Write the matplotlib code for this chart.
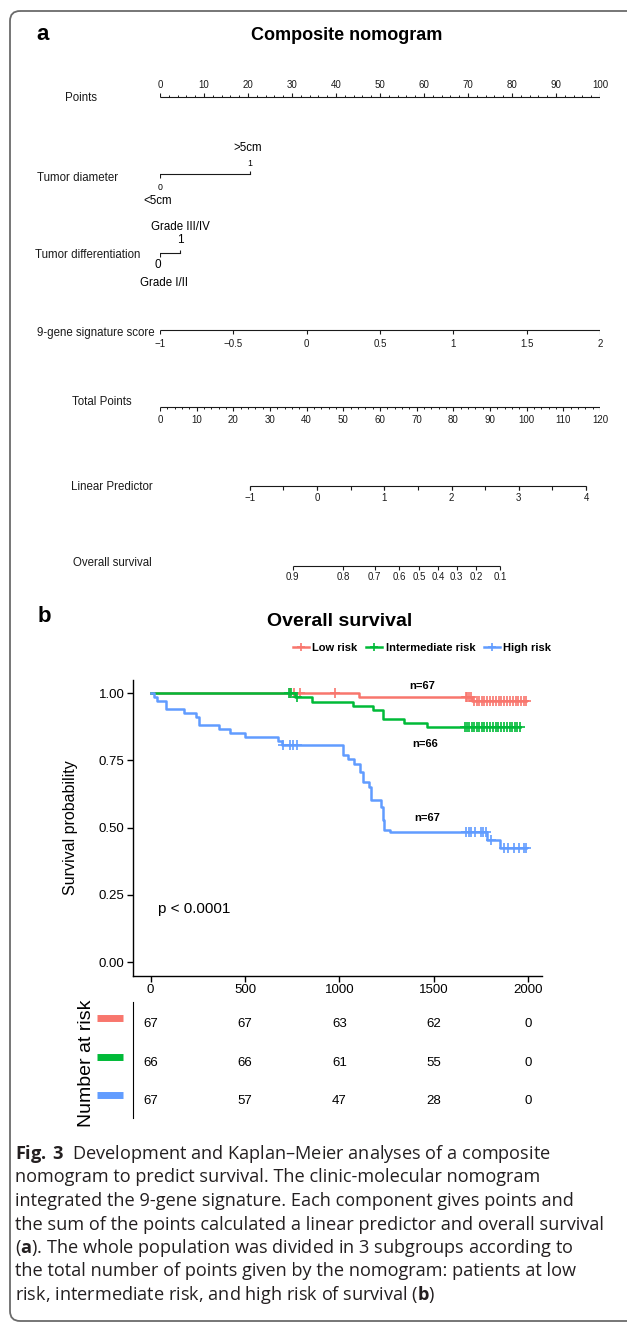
import numpy as np
import matplotlib
matplotlib.use("Agg")
import matplotlib.pyplot as plt
from matplotlib.patches import FancyBboxPatch
from matplotlib.lines import Line2D

plt.rcParams['font.family'] = ['Liberation Sans', 'DejaVu Sans']
plt.rcParams['mathtext.fontset'] = 'custom'
plt.rcParams['mathtext.bf'] = 'Open Sans:bold'
plt.rcParams['mathtext.rm'] = 'Open Sans'

W, H = 627, 1324

# ---------------- nomogram (panel a) ----------------
points_ticks = [0, 10, 20, 30, 40, 50, 60, 70, 80, 90, 100]
diam_vals = [0, 1]
diam_cats = ["<5cm", ">5cm"]
diff_vals = [0, 1]
diff_cats = ["Grade I/II", "Grade III/IV"]
gene_ticks = [-1, -0.5, 0, 0.5, 1, 1.5, 2]
gene_labels = ["\u22121", "\u22120.5", "0", "0.5", "1", "1.5", "2"]
total_ticks = [0, 10, 20, 30, 40, 50, 60, 70, 80, 90, 100, 110, 120]
lp_ticks = [-1, -0.5, 0, 0.5, 1, 1.5, 2, 2.5, 3, 3.5, 4]
lp_labeled = [-1, 0, 1, 2, 3, 4]
os_ticks = [0.9, 0.8, 0.7, 0.6, 0.5, 0.4, 0.3, 0.2, 0.1]

# model
diam_pts = 20.5        # points for >5cm
diff_pts = 4.6         # points for grade III/IV
gene_range = (-1, 2)   # 9-gene score spanning 0..100 points
total_max = 120
lp_at_tp0 = -2.336
lp_per_tp = 0.05453
log_h0 = -1.889

# ---------------- Kaplan-Meier (panel b) ----------------
low_t = [0, 1105, 1700]
low_s = [1.0, 0.984, 0.969]
low_cens = [740, 760, 790, 975, 1668, 1677, 1687, 1695, 1712, 1726, 1740, 1754,
            1768, 1783, 1798, 1813, 1828, 1843, 1858, 1873, 1888, 1903, 1918,
            1933, 1948, 1962, 1976, 1989]

int_t = [0, 765, 852, 1070, 1176, 1228, 1342, 1464]
int_s = [1.0, 0.985, 0.968, 0.951, 0.936, 0.905, 0.888, 0.872]
int_cens = [735, 745, 777, 1665, 1676, 1688, 1700, 1713, 1726, 1740, 1754, 1768,
            1782, 1797, 1812, 1827, 1842, 1857, 1872, 1887, 1902, 1916, 1930,
            1942, 1954]

high_t = [0, 18, 35, 81, 177, 240, 258, 364, 420, 500, 677, 694, 1018, 1044,
          1076, 1111, 1123, 1158, 1167, 1219, 1228, 1237, 1268, 1781, 1851]
high_s = [1.0, 0.985, 0.970, 0.940, 0.925, 0.910, 0.881, 0.866, 0.851, 0.836,
          0.821, 0.806, 0.769, 0.753, 0.736, 0.708, 0.671, 0.652, 0.603, 0.578,
          0.529, 0.492, 0.483, 0.454, 0.423]
high_cens = [700, 738, 756, 777, 1671, 1684, 1696, 1719, 1749, 1760, 1775, 1800,
             1869, 1895, 1922, 1949, 1975, 1989]

groups = ["Low risk", "Intermediate risk", "High risk"]
colors = ["#F8766D", "#00BA38", "#619CFF"]
n_labels = ["n=67", "n=66", "n=67"]
n_pos = [(1438, 1.027), (1455, 0.812), (1464, 0.535)]

risk_times = [0, 500, 1000, 1500, 2000]
risk_low = [67, 67, 63, 62, 0]
risk_int = [66, 66, 61, 55, 0]
risk_high = [67, 57, 47, 28, 0]

caption = [
    r"$\mathbf{Fig.\,3}$  Development and Kaplan–Meier analyses of a composite",
    "nomogram to predict survival. The clinic-molecular nomogram",
    "integrated the 9-gene signature. Each component gives points and",
    "the sum of the points calculated a linear predictor and overall survival",
    r"($\mathbf{a}$). The whole population was divided in 3 subgroups according to",
    "the total number of points given by the nomogram: patients at low",
    r"risk, intermediate risk, and high risk of survival ($\mathbf{b}$)",
]


def fx(px):
    return px / W


def fy(py):
    return 1 - py / H


fig = plt.figure(figsize=(W / 100, H / 100), dpi=100)

# frame
bg = fig.add_axes([0, 0, 1, 1])
bg.set_xlim(0, W)
bg.set_ylim(H, 0)
bg.axis('off')
bg.add_patch(FancyBboxPatch((10, 11), 700, 1310,
                            boxstyle="round,pad=0,rounding_size=10",
                            fc='none', ec='#6b6b6b', lw=1.3, clip_on=False))

ink = '#1a1a1a'

# nomogram axes: x in points, y in pixel rows
nom = fig.add_axes([fx(160), fy(620), fx(600) - fx(160), 620 / H])
nom.set_xlim(0, 100)
nom.set_ylim(620, 0)
nom.axis('off')


def gene_to_pts(v):
    return (v - gene_range[0]) / (gene_range[1] - gene_range[0]) * 100


def total_to_pts(tp):
    return np.asarray(tp, dtype=float) / total_max * 100


def lp_to_pts(lp):
    return total_to_pts((np.asarray(lp, dtype=float) - lp_at_tp0) / lp_per_tp)


def surv_to_pts(s):
    s = np.asarray(s, dtype=float)
    return lp_to_pts(np.log(-np.log(s)) - log_h0)


def scale_row(y, pos, labels, side='down', fs=7, minor=None, tl=4, off=13):
    pos = np.asarray(pos, dtype=float)
    nom.plot([pos.min(), pos.max()], [y, y], color=ink, lw=0.8, solid_capstyle='butt')
    d = -1 if side == 'up' else 1
    nom.vlines(pos, y, y + d * tl, color=ink, lw=0.8)
    if minor is not None:
        nom.vlines(minor, y, y + d * tl * 0.5, color=ink, lw=0.7)
    for p, lab in zip(pos, labels):
        nom.text(p, y + d * off, lab, ha='center', va='center', fontsize=fs, color=ink)


def row_label(px, py, text):
    fig.text(fx(px), fy(py), text, ha='left', va='center', fontsize=8.3, color=ink)


fig.text(fx(36), fy(35), "a", fontsize=16, fontweight='bold', ha='left', va='center')
fig.text(fx(347), fy(35), "Composite nomogram", fontsize=13, fontweight='bold',
         ha='center', va='center')

# Points
minor_pts = [p for p in range(0, 101, 2) if p % 10]
scale_row(97, points_ticks, [str(t) for t in points_ticks], side='up', minor=minor_pts, off=12)
row_label(65, 98, "Points")

# Tumor diameter
dpos = [v * diam_pts for v in diam_vals]
nom.plot(dpos, [174, 174], color=ink, lw=0.8)
nom.vlines(dpos[0], 174, 177.5, color=ink, lw=0.8)
nom.vlines(dpos[1], 170.5, 174, color=ink, lw=0.8)
nom.text(dpos[0], 187, "0", ha='center', va='center', fontsize=6.3)
nom.text(dpos[0] - 0.5, 201, diam_cats[0], ha='center', va='center', fontsize=8.3)
nom.text(dpos[1], 163, "1", ha='center', va='center', fontsize=6.3)
nom.text(dpos[1] - 0.5, 148, diam_cats[1], ha='center', va='center', fontsize=8.3)
row_label(37, 178, "Tumor diameter")

# Tumor differentiation
gpos = [v * diff_pts for v in diff_vals]
nom.plot(gpos, [253, 253], color=ink, lw=0.8)
nom.vlines(gpos[0], 253, 256.5, color=ink, lw=0.8)
nom.vlines(gpos[1], 249.5, 253, color=ink, lw=0.8)
nom.text(gpos[0] - 0.4, 265, "0", ha='center', va='center', fontsize=8.5)
nom.text(gpos[0] + 0.8, 283, diff_cats[0], ha='center', va='center', fontsize=8.3)
nom.text(gpos[1], 240, "1", ha='center', va='center', fontsize=8.5)
nom.text(gpos[1], 227, diff_cats[1], ha='center', va='center', fontsize=8.3)
row_label(35, 255, "Tumor differentiation")

# 9-gene signature score
scale_row(330, [gene_to_pts(v) for v in gene_ticks], gene_labels, off=14)
row_label(37, 333, "9-gene signature score")

# Total points
minor_tot = total_to_pts([p for p in range(0, 121, 2) if p % 10])
scale_row(407, total_to_pts(total_ticks), [str(t) for t in total_ticks],
          minor=minor_tot, off=13)
row_label(72, 402, "Total Points")

# Linear predictor
nom.vlines(lp_to_pts(lp_ticks), 486, 490, color=ink, lw=0.8)
scale_row(486, lp_to_pts(lp_labeled),
          ["\u22121" if v < 0 else str(v) for v in lp_labeled], off=12)
row_label(71, 487, "Linear Predictor")

# Overall survival
scale_row(566, surv_to_pts(os_ticks), [str(v) for v in os_ticks], off=11)
row_label(73, 563, "Overall survival")

# ---------------- panel b ----------------
fig.text(fx(38), fy(617), "b", fontsize=16, fontweight='bold', ha='left', va='center')
fig.text(fx(340), fy(622), "Overall survival", fontsize=14, fontweight='bold',
         ha='center', va='center')

km = fig.add_axes([fx(132.7), fy(975.5), fx(541.7) - fx(132.7), (975.5 - 679.6) / H])
km.set_xlim(-95, 2071)
km.set_ylim(-0.05, 1.05)

series = [(low_t, low_s, low_cens), (int_t, int_s, int_cens), (high_t, high_s, high_cens)]
for (t, s, c), col in zip(series, colors):
    t_end = max(c)
    tt = list(t) + [t_end]
    ss = list(s) + [s[-1]]
    km.step(tt, ss, where='post', color=col, lw=1.8)
    idx = np.searchsorted(t, c, side='right') - 1
    km.plot(c, np.asarray(s)[idx], ls='none', marker='+', ms=7, mew=1.2, color=col)

for lab, (tx, ty) in zip(n_labels, n_pos):
    km.text(tx, ty, lab, ha='center', va='center', fontsize=8, fontweight='bold')

km.text(41, 0.199, "p < 0.0001", ha='left', va='center', fontsize=11)

km.set_xticks(risk_times)
km.set_yticks([0, 0.25, 0.5, 0.75, 1.0])
km.set_yticklabels(["0.00", "0.25", "0.50", "0.75", "1.00"])
km.tick_params(length=4, width=1, labelsize=9.5, pad=2, colors='black')
for sp in ['top', 'right']:
    km.spines[sp].set_visible(False)
for sp in ['left', 'bottom']:
    km.spines[sp].set_linewidth(1)
km.set_ylabel("Survival probability", fontsize=11.5)
km.yaxis.set_label_coords(-0.134, 0.5)

handles = [Line2D([], [], color=c, lw=1.8, marker='+', ms=6, mew=1.2) for c in colors]
fig.legend(handles, groups, loc='center', bbox_to_anchor=(fx(422), fy(648)), ncol=3,
           frameon=False, prop={'weight': 'bold', 'size': 8}, handlelength=1.45,
           handletextpad=0.3, columnspacing=0.8, borderpad=0)

# risk table
rt = fig.add_axes([fx(132.7), fy(1118), fx(541.7) - fx(132.7), (1118 - 1002) / H])
rt.set_xlim(-95, 2071)
rt.set_ylim(2.44, -0.571)
for sp in ['top', 'right', 'bottom']:
    rt.spines[sp].set_visible(False)
rt.set_xticks([])
rt.set_yticks([])
for r, (vals, col) in enumerate(zip([risk_low, risk_int, risk_high], colors)):
    for t, n in zip(risk_times, vals):
        rt.text(t, r, str(n), ha='center', va='center', fontsize=9.5)
    rt.plot([-0.087, -0.024], [r - 0.15, r - 0.15], transform=rt.get_yaxis_transform(),
            color=col, lw=5, solid_capstyle='butt', clip_on=False)
fig.text(fx(86), fy(1063), "Number at risk", rotation=90, ha='center', va='center',
         fontsize=14)

# caption
for i, line in enumerate(caption):
    fig.text(fx(15), fy(1154 + 23.5 * i), line, ha='left', va='center',
             fontsize=13.1, family='Open Sans', color='#231f20')

fig.savefig("out.png", dpi=100)
